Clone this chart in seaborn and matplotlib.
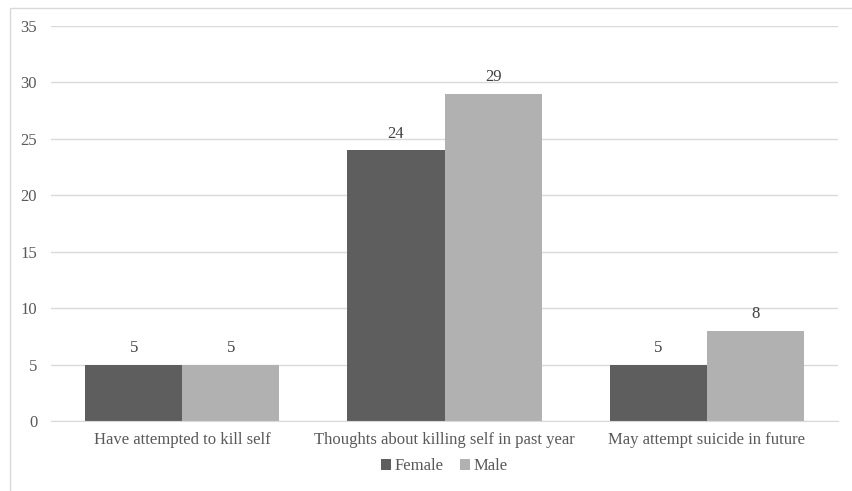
import pandas as pd
import seaborn as sns
import matplotlib
matplotlib.use("Agg")
from matplotlib import pyplot as plt
from matplotlib.patches import Rectangle

categories = ["Have attempted to kill self",
              "Thoughts about killing self in past year",
              "May attempt suicide in future"]
female = [5, 24, 5]
male = [5, 29, 8]
groups = ["Female", "Male"]
colors = ["#5e5e5e", "#b1b1b1"]

df = pd.DataFrame({
    "Category": categories * 2,
    "Group": ["Female"] * 3 + ["Male"] * 3,
    "Value": female + male,
})

sns.set_style("white")
plt.rcParams["font.family"] = ["Liberation Serif", "DejaVu Serif"]
txt = "#595959"

fig = plt.figure(figsize=(8.52, 4.91), dpi=100)
ax = fig.add_axes([0.0599, 0.1426, 0.9237, 0.8044])

sns.barplot(data=df, x="Category", y="Value", hue="Group", hue_order=groups,
            palette=colors, width=0.74, saturation=1, linewidth=0, ax=ax, legend=True)

for c in ax.containers:
    ax.bar_label(c, fontsize=12, color="#404040", padding=6)

ax.set_ylim(0, 35)
ax.set_yticks(range(0, 36, 5))
ax.set_xlim(-0.5, 2.5)
ax.yaxis.grid(True, color="#d9d9d9", linewidth=1)
ax.set_axisbelow(True)
for s in ["left", "right", "top"]:
    ax.spines[s].set_visible(False)
ax.spines["bottom"].set_color("#d9d9d9")
ax.set_xlabel("")
ax.set_ylabel("")
ax.tick_params(axis="both", length=0, labelsize=12, labelcolor=txt)
ax.tick_params(axis="y", pad=10)
ax.tick_params(axis="x", pad=8)

h, l = ax.get_legend_handles_labels()
ax.legend(h, l, loc="center", bbox_to_anchor=(0.5, -0.115), ncol=2, frameon=False,
          fontsize=12, labelcolor=txt, handlelength=0.6, handleheight=0.6,
          handletextpad=0.2, columnspacing=1.0)

fig.patches.append(Rectangle((10 / 852, -0.1), 1.2, 1 - 8 / 491 + 0.1,
                             transform=fig.transFigure, fill=False,
                             edgecolor="#d9d9d9", linewidth=1))

fig.savefig("out.png", dpi=100)
